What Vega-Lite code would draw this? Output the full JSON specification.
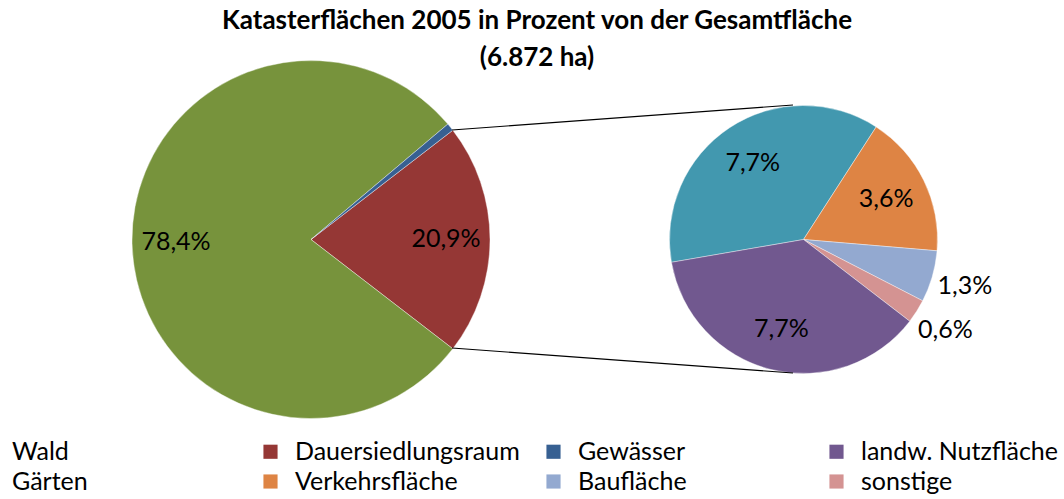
{
  "$schema": "https://vega.github.io/schema/vega-lite/v6.json",
  "width": 1064,
  "height": 359,
  "autosize": {"type": "none"},
  "padding": {"top": 60, "left": 0, "right": 0, "bottom": 80},
  "config": {
    "view": {"stroke": null},
    "font": "Lato",
    "locale": {"number": {"decimal": ",", "thousands": ".", "grouping": [3], "currency": ["", " €"]}},
    "text": {"font": "Lato", "color": "#000000"},
    "legend": {
      "orient": "none",
      "legendX": -25,
      "legendY": 379,
      "columns": 4,
      "direction": "horizontal",
      "symbolType": "square",
      "symbolSize": 200,
      "symbolStrokeWidth": 0,
      "labelFont": "Lato",
      "labelFontSize": 25,
      "labelColor": "#000000",
      "labelOffset": 12,
      "labelLimit": 400,
      "gridAlign": "all",
      "columnPadding": 21,
      "rowPadding": 4
    }
  },
  "title": {
    "text": ["Katasterflächen 2005 in Prozent von der Gesamtfläche", "(6.872 ha)"],
    "font": "Lato",
    "fontSize": 26,
    "fontWeight": "bold",
    "color": "#000000",
    "lineHeight": 37,
    "frame": "group",
    "anchor": "middle",
    "dx": 5,
    "offset": -11
  },
  "data": {
    "values": [
      {"diagramm": "Gesamtfläche", "kategorie": "Dauersiedlungsraum", "anteil": 0.209, "reihenfolge": 1},
      {"diagramm": "Gesamtfläche", "kategorie": "Wald", "anteil": 0.784, "reihenfolge": 2},
      {"diagramm": "Gesamtfläche", "kategorie": "Gewässer", "anteil": 0.007, "reihenfolge": 3},
      {"diagramm": "Dauersiedlungsraum", "kategorie": "Gärten", "anteil": 0.077, "reihenfolge": 1},
      {"diagramm": "Dauersiedlungsraum", "kategorie": "Verkehrsfläche", "anteil": 0.036, "reihenfolge": 2},
      {"diagramm": "Dauersiedlungsraum", "kategorie": "Baufläche", "anteil": 0.013, "reihenfolge": 3},
      {"diagramm": "Dauersiedlungsraum", "kategorie": "sonstige", "anteil": 0.006, "reihenfolge": 4},
      {"diagramm": "Dauersiedlungsraum", "kategorie": "landw. Nutzfläche", "anteil": 0.077, "reihenfolge": 5}
    ]
  },
  "resolve": {"scale": {"theta": "independent", "x": "independent", "y": "independent"}},
  "layer": [
    {
      "transform": [{"filter": "datum.diagramm === 'Gesamtfläche'"}],
      "mark": {"type": "arc", "outerRadius": 179, "stroke": "#ffffff", "strokeWidth": 0.4},
      "encoding": {
        "x": {"field": "diagramm", "type": "nominal", "axis": null, "scale": {"type": "point", "domain": ["Gesamtfläche", "Dauersiedlungsraum"], "padding": 0.5802, "align": 0.5442}},
        "theta": {"field": "anteil", "type": "quantitative", "stack": true, "scale": {"range": [0.9142, 7.1974]}},
        "order": {"field": "reihenfolge", "type": "quantitative"},
        "color": {
          "field": "kategorie",
          "type": "nominal",
          "scale": {
            "domain": ["Wald", "Dauersiedlungsraum", "Gewässer", "landw. Nutzfläche", "Gärten", "Verkehrsfläche", "Baufläche", "sonstige"],
            "range": ["#77933C", "#953735", "#376092", "#71588F", "#4298AF", "#DE8444", "#93A9D0", "#D49392"]
          },
          "legend": {"title": null}
        }
      }
    },
    {
      "transform": [{"filter": "datum.diagramm === 'Gesamtfläche'"}],
      "mark": {"type": "text", "radius": 135, "fontSize": 25, "font": "Lato", "color": "#000000"},
      "encoding": {
        "x": {"field": "diagramm", "type": "nominal", "axis": null, "scale": {"type": "point", "domain": ["Gesamtfläche", "Dauersiedlungsraum"], "padding": 0.5802, "align": 0.5442}},
        "theta": {"field": "anteil", "type": "quantitative", "stack": true, "scale": {"range": [0.9142, 7.1974]}},
        "order": {"field": "reihenfolge", "type": "quantitative"},
        "text": {"condition": {"test": "datum.anteil >= 0.02", "field": "anteil", "type": "quantitative", "format": ".1%"}, "value": ""}
      }
    },
    {
      "transform": [{"filter": "datum.diagramm === 'Dauersiedlungsraum'"}],
      "mark": {"type": "arc", "outerRadius": 134, "stroke": "#ffffff", "strokeWidth": 0.4},
      "encoding": {
        "x": {"field": "diagramm", "type": "nominal", "axis": null, "scale": {"type": "point", "domain": ["Gesamtfläche", "Dauersiedlungsraum"], "padding": 0.5802, "align": 0.5442}},
        "theta": {"field": "anteil", "type": "quantitative", "stack": true, "scale": {"range": [4.5413, 10.8245]}},
        "order": {"field": "reihenfolge", "type": "quantitative"},
        "color": {"field": "kategorie", "type": "nominal"}
      }
    },
    {
      "transform": [{"filter": "datum.diagramm === 'Dauersiedlungsraum'"}],
      "mark": {"type": "text", "radius": 92, "fontSize": 25, "font": "Lato", "color": "#000000"},
      "encoding": {
        "x": {"field": "diagramm", "type": "nominal", "axis": null, "scale": {"type": "point", "domain": ["Gesamtfläche", "Dauersiedlungsraum"], "padding": 0.5802, "align": 0.5442}},
        "theta": {"field": "anteil", "type": "quantitative", "stack": true, "scale": {"range": [4.5413, 10.8245]}},
        "order": {"field": "reihenfolge", "type": "quantitative"},
        "text": {"condition": {"test": "datum.anteil >= 0.02", "field": "anteil", "type": "quantitative", "format": ".1%"}, "value": ""}
      }
    },
    {
      "transform": [{"filter": "datum.diagramm === 'Dauersiedlungsraum'"}],
      "mark": {"type": "text", "radius": 168, "fontSize": 25, "font": "Lato", "color": "#000000"},
      "encoding": {
        "x": {"field": "diagramm", "type": "nominal", "axis": null, "scale": {"type": "point", "domain": ["Gesamtfläche", "Dauersiedlungsraum"], "padding": 0.5802, "align": 0.5442}},
        "theta": {"field": "anteil", "type": "quantitative", "stack": true, "scale": {"range": [4.5413, 10.8245]}},
        "order": {"field": "reihenfolge", "type": "quantitative"},
        "text": {"condition": {"test": "datum.anteil < 0.02", "field": "anteil", "type": "quantitative", "format": ".1%"}, "value": ""}
      }
    },
    {
      "data": {
        "values": [
          {"verbinder": "oben", "von_x": 452, "von_y": 130, "bis_x": 793, "bis_y": 105},
          {"verbinder": "unten", "von_x": 452, "von_y": 348, "bis_x": 793, "bis_y": 373}
        ]
      },
      "mark": {"type": "rule", "color": "#000000", "strokeWidth": 1.2},
      "encoding": {
        "x": {"field": "von_x", "type": "quantitative", "axis": null, "scale": {"domain": [0, 1064], "nice": false, "zero": false}},
        "y": {"field": "von_y", "type": "quantitative", "axis": null, "scale": {"domain": [60, 419], "reverse": true, "nice": false, "zero": false}},
        "x2": {"field": "bis_x"},
        "y2": {"field": "bis_y"}
      }
    }
  ]
}
